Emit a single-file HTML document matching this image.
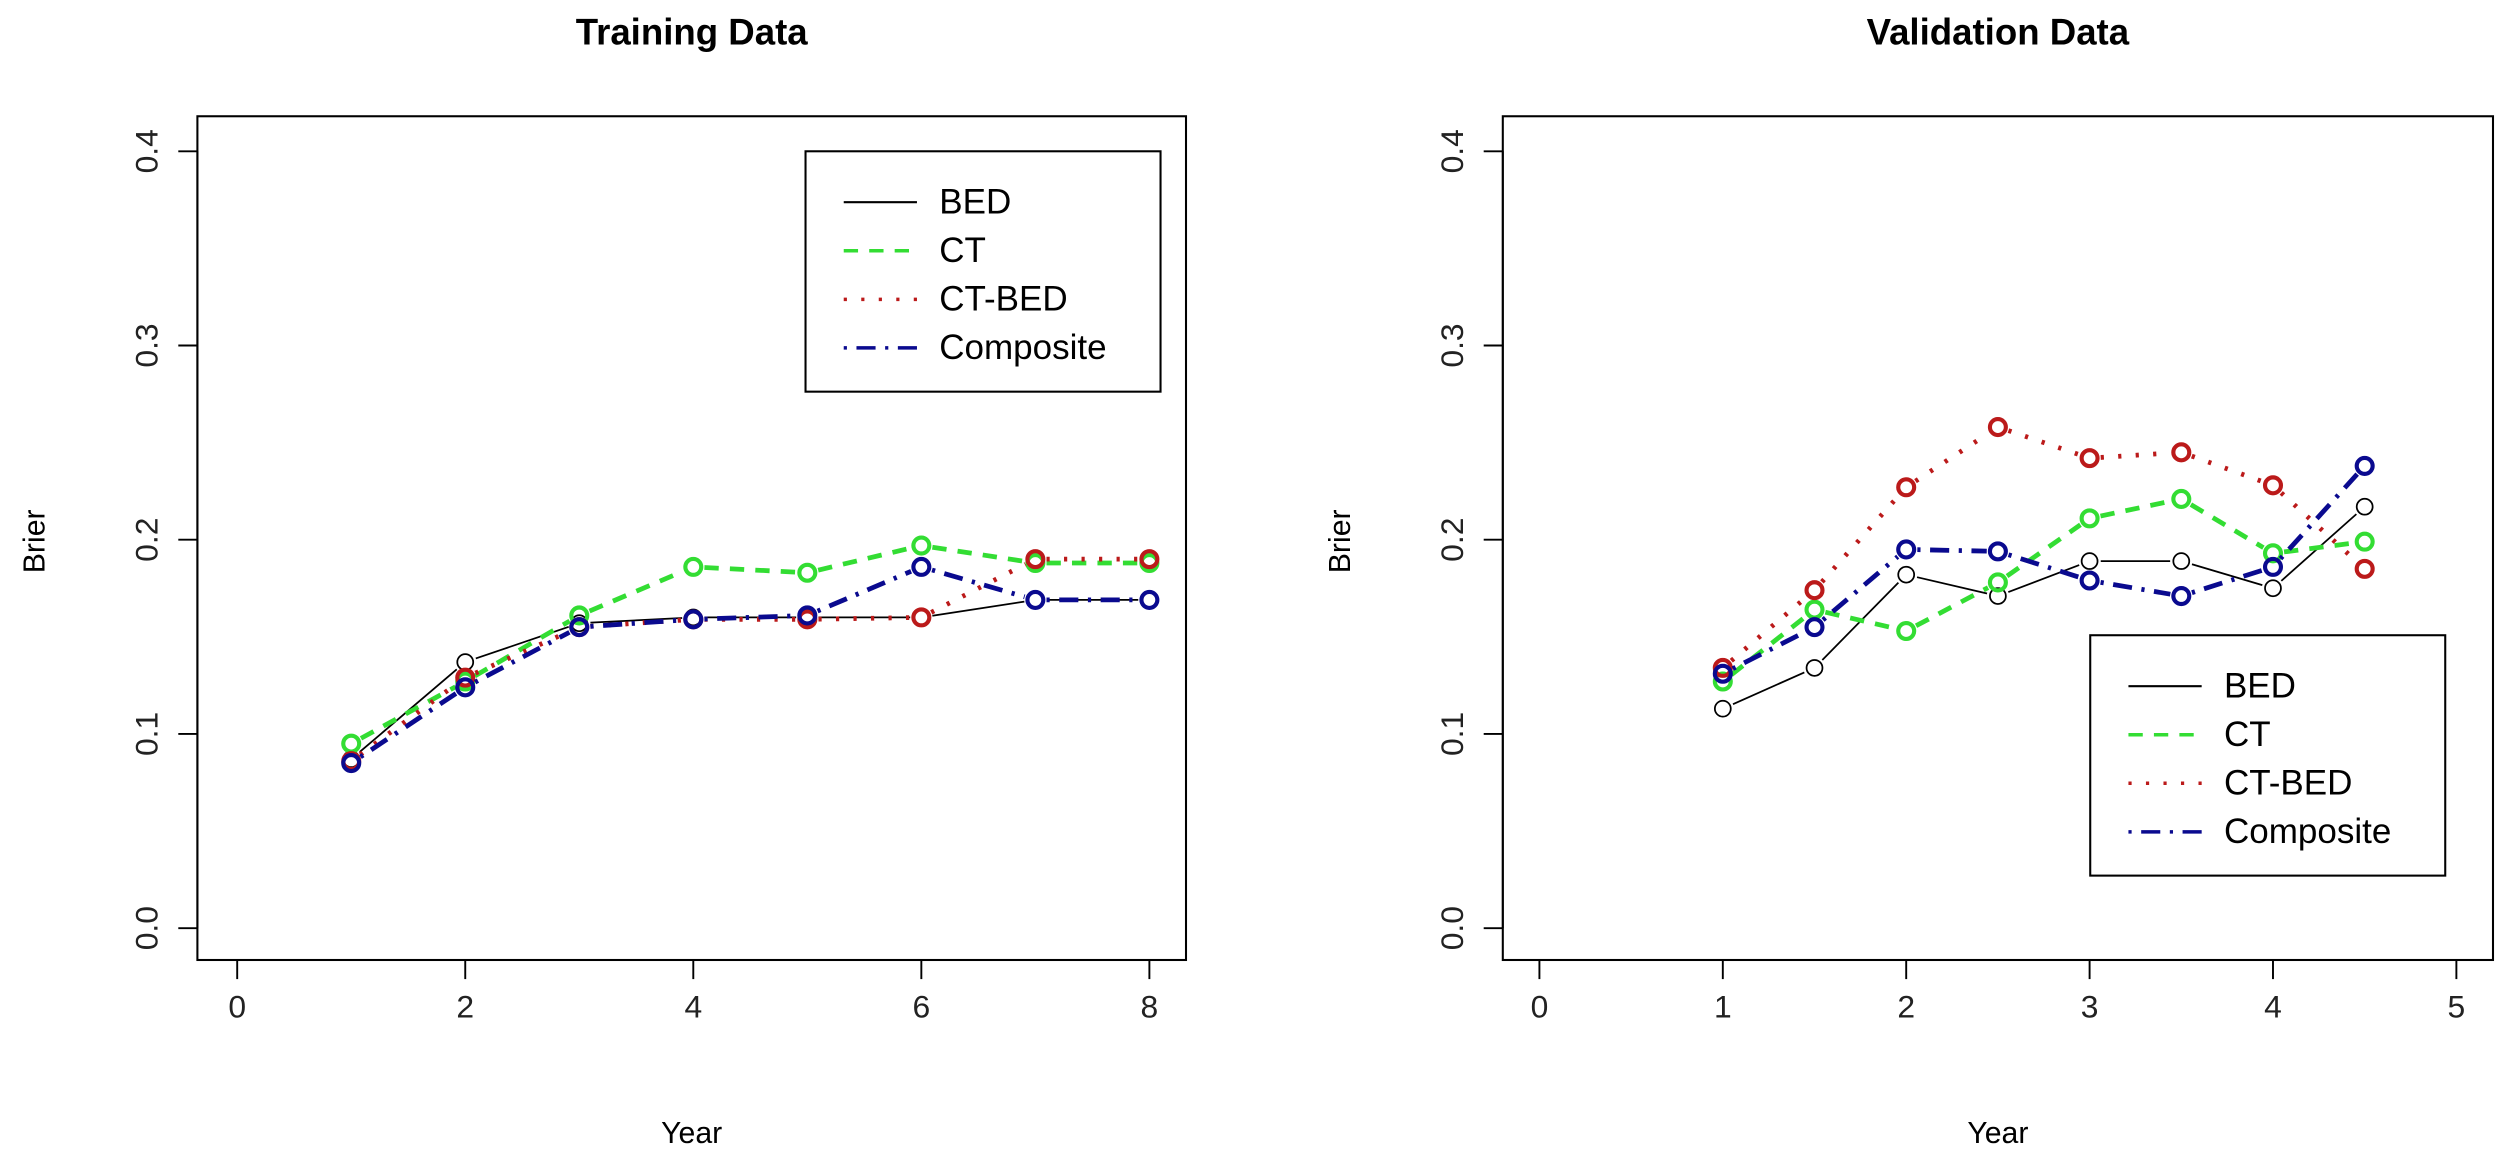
<!DOCTYPE html>
<html><head><meta charset="utf-8"><style>
html,body{margin:0;padding:0;background:#fff;}
svg{display:block;font-family:"Liberation Sans",Arial,sans-serif;}
</style></head><body>
<svg id="chart" width="2500" height="1149" viewBox="0 0 1570.4 721.7" xmlns="http://www.w3.org/2000/svg">
<rect width="1570.4" height="721.7" fill="#fff"/>
<g id="root"></g>
</svg>
<script>
const trainYears = [1,2,3,4,5,6,7,8];
const trainBED = [0.087,0.137,0.157,0.160,0.160,0.160,0.169,0.169];
const trainCT = [0.095,0.127,0.161,0.186,0.183,0.197,0.188,0.188];
const trainCTBED = [0.086,0.129,0.155,0.159,0.159,0.160,0.190,0.190];
const trainComposite = [0.085,0.124,0.155,0.159,0.161,0.186,0.169,0.169];
const valYears = [1,1.5,2,2.5,3,3.5,4,4.5];
const valBED = [0.113,0.134,0.182,0.171,0.189,0.189,0.175,0.217];
const valCT = [0.127,0.164,0.153,0.178,0.211,0.221,0.193,0.199];
const valCTBED = [0.134,0.174,0.227,0.258,0.242,0.245,0.228,0.185];
const valComposite = [0.131,0.155,0.195,0.194,0.179,0.171,0.186,0.238];
const yTicks = [0,0.1,0.2,0.3,0.4];
const trainXTicks = [0,2,4,6,8];
const valXTicks = [0,1,2,3,4,5];
const seriesNames = ["BED","CT","CT-BED","Composite"];

const NS="http://www.w3.org/2000/svg";
const root=document.getElementById('root');
function mk(tag,attrs,parent){const e=document.createElementNS(NS,tag);for(const k in attrs)e.setAttribute(k,attrs[k]);(parent||root).appendChild(e);return e;}
const styles=[
 {color:"#000",dash:"",w:1.1,pw:1.1},
 {color:"#33dd33",dash:"9,7",w:3,pw:2.6},
 {color:"#bb1a1a",dash:"2,9",w:3,pw:2.6},
 {color:"#0a0a8f",dash:"2,6,12,6",w:3,pw:2.6}
];
function panel(opt){
  const g=mk('g',{});
  
  
  const L=opt.left,R=opt.right,T=73,B=603;
  const xs=v=>opt.x0+(v-opt.xmin)*(opt.x1-opt.x0)/(opt.xmax-opt.xmin);
  const ys=v=>583-v*1220;
  const box=mk('rect',{x:L,y:T,width:R-L,height:B-T,fill:'none',stroke:'#000','stroke-width':1.3},g);
  
  const t=mk('text',{x:(L+R)/2,y:28,'text-anchor':'middle','font-size':23,'font-weight':'bold'},g);t.textContent=opt.title;
  
  const yl=mk('text',{x:0,y:0,'text-anchor':'middle','font-size':19,transform:`translate(${L-96},340) rotate(-90)`},g);yl.textContent='Brier';
  
  const xl=mk('text',{x:(L+R)/2,y:718,'text-anchor':'middle','font-size':19},g);xl.textContent='Year';
  
  const yt=opt.yTicks;
  mk('line',{x1:L,x2:L,y1:ys(yt[0]),y2:ys(yt[yt.length-1]),stroke:'#000','stroke-width':1.2},g);
  yt.forEach(v=>{
    mk('line',{x1:L-12,x2:L,y1:ys(v),y2:ys(v),stroke:'#000','stroke-width':1.2},g);
    const tx=mk('text',{x:0,y:0,'text-anchor':'middle','font-size':20,fill:'#222',transform:`translate(${L-25},${ys(v)}) rotate(-90)`},g);
    tx.textContent=v.toFixed(1);
    
  });
  const xt=opt.xTicks;
  mk('line',{x1:xs(xt[0]),x2:xs(xt[xt.length-1]),y1:B,y2:B,stroke:'#000','stroke-width':1.2},g);
  xt.forEach(v=>{
    mk('line',{x1:xs(v),x2:xs(v),y1:B,y2:B+12,stroke:'#000','stroke-width':1.2},g);
    const tx=mk('text',{x:xs(v),y:B+36,'text-anchor':'middle','font-size':20,fill:'#222'},g);
    tx.textContent=String(v);
    
  });
  opt.series.forEach((vals,si)=>{
    const s=styles[si];
    const pts=vals.map((v,i)=>[xs(opt.years[i]),ys(v)]);
    const sg=mk('g',{},g);
    
    
    for(let i=0;i<pts.length-1;i++){
      const [ax,ay]=pts[i],[bx,by]=pts[i+1];const dx=bx-ax,dy=by-ay,d=Math.hypot(dx,dy),r=7/d;
      mk('line',{x1:ax+dx*r,y1:ay+dy*r,x2:bx-dx*r,y2:by-dy*r,stroke:s.color,'stroke-width':s.w,'stroke-dasharray':s.dash},sg);
    }
    pts.forEach(p=>{
      const c=mk('circle',{cx:p[0],cy:p[1],r:5,fill:'none',stroke:s.color,'stroke-width':s.pw},sg);
      
    });
  });
  const lg=mk('g',{},g);
  
  mk('rect',{x:opt.lx,y:opt.ly,width:223,height:151,fill:'#fff',stroke:'#000','stroke-width':1.3},lg);
  seriesNames.forEach((n,i)=>{
    const s=styles[i];const y=opt.ly+32+i*30.5;
    mk('line',{x1:opt.lx+24,x2:opt.lx+70,y1:y,y2:y,stroke:s.color,'stroke-width':i===0?1.3:2.2,'stroke-dasharray':s.dash},lg);
    const tx=mk('text',{x:opt.lx+84,y:y+7,'font-size':22},lg);tx.textContent=n;
    
  });
}
panel({name:'training-panel',title:'Training Data',left:124,right:745,x0:149,x1:722,xmin:0,xmax:8,years:trainYears,
  series:[trainBED,trainCT,trainCTBED,trainComposite],yTicks:yTicks,xTicks:trainXTicks,lx:506,ly:95});
panel({name:'validation-panel',title:'Validation Data',left:944,right:1566,x0:967,x1:1543,xmin:0,xmax:5,years:valYears,
  series:[valBED,valCT,valCTBED,valComposite],yTicks:yTicks,xTicks:valXTicks,lx:1313,ly:399});
</script>
</body></html>
